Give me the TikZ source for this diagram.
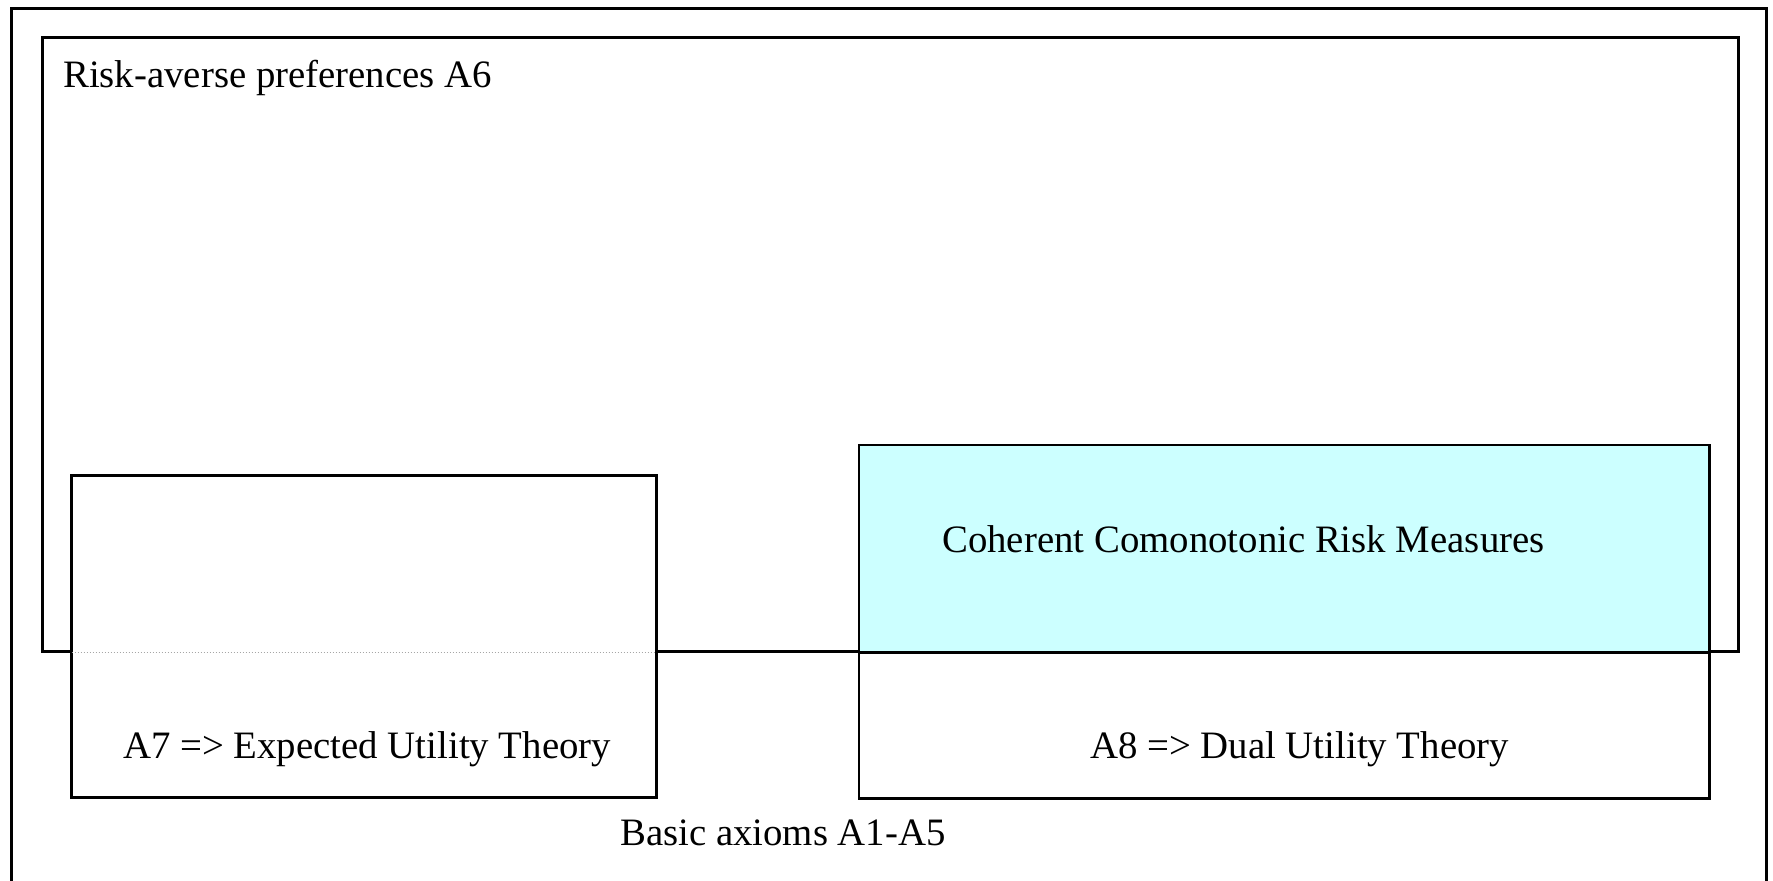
\documentclass[tikz,border=0pt]{standalone}
\usepackage{fontspec}
\setmainfont{Liberation Serif}
\definecolor{paleCyan}{HTML}{CCFFFF}
\begin{document}
\begin{tikzpicture}[x=1pt,y=-1pt,
  frame/.style={draw=black, line width=2.8pt, inner sep=0pt, anchor=north west},
  caption/.style={inner sep=0pt, anchor=base west, font=\fontsize{38.8}{46}\selectfont}]
\useasboundingbox (0,0) rectangle (1773,881);
\clip (0,0) rectangle (1773,881);
\fill[white] (0,0) rectangle (1773,881);
% outer frame: basic axioms
\node[frame, minimum width=1755pt, minimum height=900pt] (basicbox) at (10,7) {};
% risk-averse region
\node[frame, minimum width=1696pt, minimum height=614pt] (averse) at (41,36) {};
% expected utility box (covers the region's lower edge)
\node[frame, fill=white, minimum width=585pt, minimum height=322pt] (eut) at (70,474) {};
\draw[gray!70, dotted, line width=1pt] ([xshift=1.5pt]eut.west |- averse.south) -- ([xshift=-1.5pt]eut.east |- averse.south);
% dual utility box, shaded where it meets the risk-averse region
\node[frame, draw=none, fill=white, minimum width=848pt, minimum height=351pt] (dut) at (859,445) {};
\fill[paleCyan] (dut.north west) rectangle (dut.east |- averse.south);
\draw[line width=2.8pt] (dut.north west) rectangle (dut.south east);
\draw[line width=2.8pt] (dut.west |- averse.south) -- (dut.east |- averse.south);
% labels
\node[caption] (a6) at (63,87) {Risk-averse preferences A6};
\node[caption] (ccrm) at (942,552) {Coherent Comonotonic Risk Measures};
\node[caption] (eutlabel) at (123,758) {A7 => Expected Utility Theory};
\node[caption] (dutlabel) at (1090,758) {A8 => Dual Utility Theory};
\node[caption] (basic) at (620,845) {Basic axioms A1-A5};
\end{tikzpicture}
\end{document}
